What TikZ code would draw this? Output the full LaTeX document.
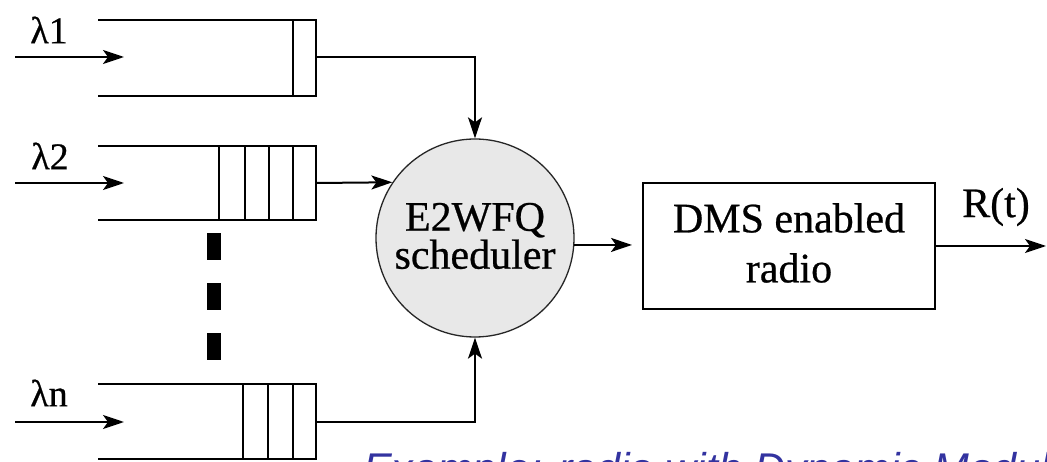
\documentclass[tikz,border=0pt]{standalone}
\usepackage{fontspec}
\setmainfont{Liberation Serif}[FakeBold=0.6]
\newfontfamily\capfont{Liberation Sans}
\usetikzlibrary{arrows.meta}
\definecolor{capblue}{RGB}{51,51,160}
\definecolor{schfill}{RGB}{232,232,232}
\begin{document}
\begin{tikzpicture}[x=1pt,y=-1pt,line width=2pt,
  arr/.style={-{Stealth[length=21pt,width=14pt,inset=5pt]}},
  lbl/.style={font=\fontsize{38}{38}\selectfont,inner sep=0pt},
  big/.style={font=\fontsize{42}{40}\selectfont,inner sep=0pt,align=center},
  qline/.style={line width=2pt},
  dotbar/.style={fill=black}]
\useasboundingbox (0,0) rectangle (1047,462);
\clip (0,0) rectangle (1047,462);

% queue 1
\draw[qline] (98,20) -- (316,20) -- (316,96) -- (98,96);
\draw[qline] (293,20) -- (293,96);
% queue 2
\draw[qline] (98,146) -- (316,146) -- (316,220) -- (98,220);
\foreach \x in {219,245,269,293} \draw[qline] (\x,146) -- (\x,220);
% queue n
\draw[qline] (98,384) -- (316,384) -- (316,459) -- (98,459);
\foreach \x in {243,268,293} \draw[qline] (\x,384) -- (\x,459);

% dots
\fill[dotbar] (207,233) rectangle (221,260);
\fill[dotbar] (207,283) rectangle (221,310);
\fill[dotbar] (207,333) rectangle (221,360);

% labels
\node[lbl] (l1) at (49,30) {λ1};
\node[lbl] (l2) at (50,156) {λ2};
\node[lbl] (ln) at (49,393) {λn};

% inputs
\coordinate (i1s) at (15,57);  \coordinate (i1e) at (124,57);
\coordinate (i2s) at (15,183); \coordinate (i2e) at (124,183);
\coordinate (ins) at (15,422); \coordinate (ine) at (124,422);
\draw[arr] (i1s) -- (i1e);
\draw[arr] (i2s) -- (i2e);
\draw[arr] (ins) -- (ine);

% queue outputs
\coordinate (q1) at (316,57);
\coordinate (q2) at (316,183);
\coordinate (qn) at (316,422);

% scheduler
\node[circle,fill=schfill,draw=black!85,line width=1.3pt,minimum size=198pt,inner sep=0pt] (sch) at (475,238) {};
\node[big,font=\fontsize{42}{38}\selectfont] (schtext) at (475,236) {E2WFQ\\scheduler};

% DMS box
\node[draw,line width=2pt,minimum width=292pt,minimum height=126pt,inner sep=0pt] (dms) at (789,246) {};
\node[big,font=\fontsize{42}{50}\selectfont] (dmstext) at (789,243) {DMS enabled\\radio};

\node[inner sep=0pt,font=\fontsize{42}{42}\selectfont] (rt) at (996,207) {R(t)};

% connectors
\draw[arr] (q1) -| (sch.north);
\draw[arr] (q2) -- (sch.146);
\draw[arr] (qn) -| (sch.south);
\draw[arr,shorten >=10pt] (sch.-4.6) -- (sch.-4.6 -| dms.west);
\coordinate (out) at (1046,246);
\draw[arr] (dms.east) -- (out);

% caption (cut off by the frame, as in the reference)
\node[anchor=base west,text=capblue,inner sep=0pt,font=\capfont\itshape\fontsize{43}{43}\selectfont] (cap) at (362,483) {Example: radio with Dynamic Modul};
\end{tikzpicture}
\end{document}
